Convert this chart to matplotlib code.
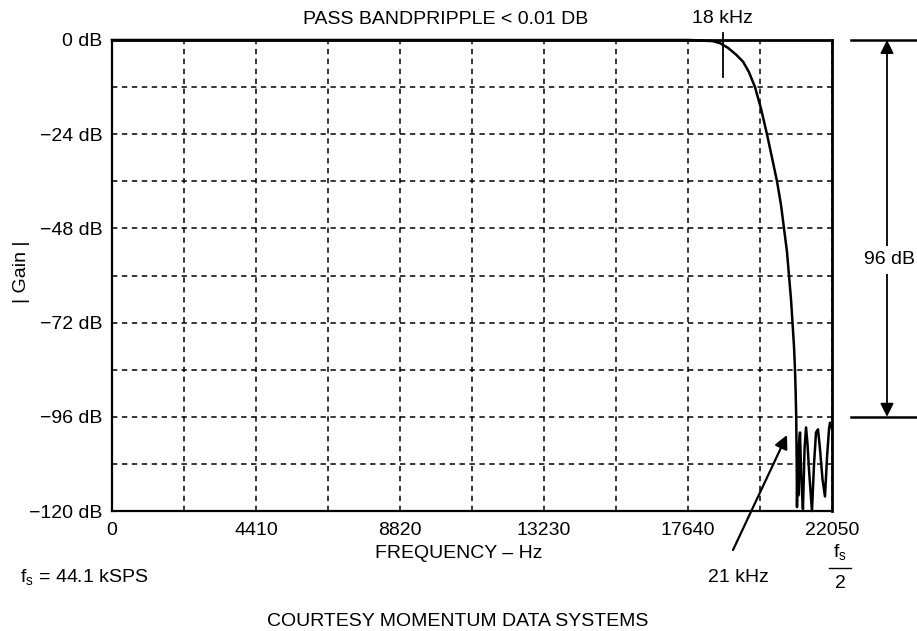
import matplotlib
matplotlib.use("Agg")
import matplotlib.pyplot as plt
from matplotlib.lines import Line2D

plt.rcParams['font.family'] = ['Liberation Sans', 'DejaVu Sans']
FS = 14

# ---- data ----
x_ticks = [0, 2205, 4410, 6615, 8820, 11025, 13230, 15435, 17640, 19845, 22050]
x_tick_labels = ['0', '', '4410', '', '8820', '', '13230', '', '17640', '', '22050']
y_ticks = [0, -12, -24, -36, -48, -60, -72, -84, -96, -108, -120]
y_tick_labels = ['0 dB', '', '\u221224 dB', '', '\u221248 dB', '', '\u221272 dB', '',
                 '\u221296 dB', '', '\u2212120 dB']

freq_hz = [0, 5000, 10000, 15000, 17640, 18008, 18406, 18620, 18865, 19110, 19324,
           19508, 19692, 19876, 20059, 20213, 20366, 20488, 20580, 20672, 20733,
           20794, 20840, 20886, 20917, 20938, 20954, 20969, 20978,
           21000, 21020, 21040, 21070, 21110, 21160, 21210, 21255, 21300, 21350,
           21437, 21500, 21560, 21621, 21680, 21760, 21835, 21900, 21960, 21988, 22050]
gain_db = [0, 0, 0, 0, 0, -0.1, -0.3, -0.8, -2.0, -3.7, -5.5,
           -8.2, -12, -17.5, -24, -30, -36, -42, -48, -54, -60,
           -66, -72, -78, -84, -90, -96, -108, -119,
           -104, -116, -103, -100, -112, -119.5, -104, -98.7, -103, -110,
           -120, -108, -100, -99.2, -104, -112, -116.3, -106, -99, -97.5, -99]

fig = plt.figure(figsize=(9.17, 6.31), dpi=100)
ax = fig.add_axes([112/917, 1-511/631, 720/917, 471/631])

ax.plot(freq_hz, gain_db, color='black', lw=1.8, clip_on=False, zorder=3)

ax.set_xlim(0, 22050)
ax.set_ylim(-120, 0)
ax.set_xticks(x_ticks)
ax.set_xticklabels(x_tick_labels, fontsize=FS)
ax.set_yticks(y_ticks)
ax.set_yticklabels(y_tick_labels, fontsize=FS)
ax.tick_params(axis='x', length=0, pad=8)
ax.tick_params(axis='y', length=0, pad=7)
ax.grid(True, color='black', linestyle=(0, (3.5, 3)), lw=1.1)
for s in ax.spines.values():
    s.set_linewidth(1.6)
    s.set_color('black')
ax.spines['top'].set_linewidth(2.0)
ax.spines['right'].set_linewidth(2.0)

fig.text(459/917, 1-554/631, 'FREQUENCY \u2013 Hz', ha='center', va='center', fontsize=FS)
fig.text(22/917, 1-272/631, '| Gain |', ha='center', va='center', fontsize=FS, rotation=90)

# top annotations
fig.text(446/917, 1-19/631, 'PASS BANDPRIPPLE < 0.01 DB', ha='center', va='center', fontsize=FS)
ax.text(18700, 5.6, '18 kHz', ha='center', va='center', fontsize=FS)
ax.add_line(Line2D([18700, 18700], [1.8, -9.5], color='black', lw=1.3, clip_on=False))

# 96 dB dimension arrow
xa = (887 - 112) / 720
for yv in (0, -96):
    ax.add_line(Line2D([(851-112)/720, (917-112)/720], [yv, yv], color='black', lw=1.8,
                       transform=ax.get_yaxis_transform(), clip_on=False))
ax.annotate('', xy=(xa, 0), xytext=(xa, -96),
            xycoords=ax.get_yaxis_transform(), textcoords=ax.get_yaxis_transform(),
            arrowprops=dict(arrowstyle='<|-|>', color='black', lw=1.3,
                            mutation_scale=20, shrinkA=0, shrinkB=0))
ax.text(xa + 0.003, -56, '96 dB', transform=ax.get_yaxis_transform(), ha='center',
        va='center', fontsize=FS,
        bbox=dict(facecolor='white', edgecolor='none', pad=4))

# 21 kHz arrow
ax.annotate('', xy=(787/917, 1-435/631), xytext=(733/917, 1-550/631),
            xycoords='figure fraction', textcoords='figure fraction',
            arrowprops=dict(arrowstyle='-|>', color='black', lw=1.6,
                            mutation_scale=20, shrinkA=0, shrinkB=0))
fig.text(738/917, 1-578/631, '21 kHz', ha='center', va='center', fontsize=FS)

# fs/2
fig.text(840/917, 1-553/631, r'f$_\mathregular{s}$', ha='center', va='center', fontsize=FS)
fig.add_artist(Line2D([829/917, 851/917], [1-568/631, 1-568/631], color='black', lw=1.0))
fig.text(840/917, 1-584/631, '2', ha='center', va='center', fontsize=FS)

fig.text(20/917, 1-578/631, r'f$_\mathregular{s}$ = 44.1 kSPS', ha='left', va='center', fontsize=FS)
fig.text(458/917, 1-622/631, 'COURTESY MOMENTUM DATA SYSTEMS', ha='center', va='center', fontsize=FS)

fig.savefig('out.png', dpi=100, facecolor='white')
